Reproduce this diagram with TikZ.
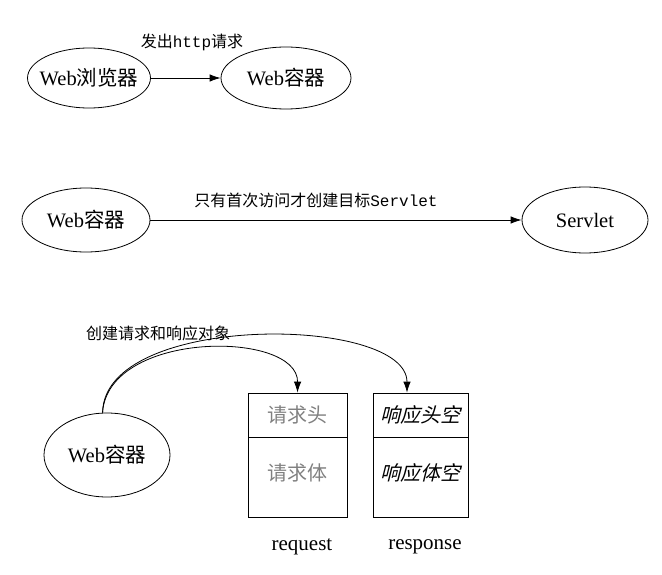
\documentclass[tikz,border=0pt]{standalone}
\usepackage{fontspec}
\usepackage{tikz}
\usetikzlibrary{shapes.geometric,arrows.meta}
\setmainfont{Liberation Serif}
\setmonofont{Liberation Mono}
\newfontfamily\cjk{Noto Sans CJK SC}
\newfontfamily\cjkit[FakeSlant=0.25]{Noto Sans CJK SC}

\begin{document}
\begin{tikzpicture}[x=1pt, y=-1pt, line width=0.8pt,
	ell/.style={ellipse, draw=black, inner sep=0pt, font=\fontsize{20.5}{22}\selectfont},
	lbl/.style={inner sep=0pt, font=\fontsize{16}{18}\selectfont},
	cell/.style={rectangle, draw=black, minimum width=99pt, inner sep=0pt, font=\fontsize{20}{22}\selectfont},
	tip/.style={-{Latex[length=11pt,width=7.5pt]}}]
			\useasboundingbox (0,0) rectangle (662,575);
			% browser sends request
			\node[ell, minimum width=123pt, minimum height=60pt] (browser) at (89,78){\makebox[0pt]{Web{\cjk 浏览器}}};
			\node[ell, minimum width=130pt, minimum height=62pt] (cont) at (286,78){\makebox[0pt]{Web{\cjk 容器}}};
			\node[lbl] (send) at (192,42){\cjk 发出\texttt{http}请求};
			\path[tip] (browser) edge (cont);
			
			% container creates servlet
			\node[ell, minimum width=128pt, minimum height=64pt] (cont2) at (86,220){\makebox[0pt]{Web{\cjk 容器}}};
			\node[ell, minimum width=126pt, minimum height=66pt] (servlet) at (585,220){\makebox[0pt]{Servlet}};
			\node[lbl] (first) at (316,200){\cjk 只有首次访问才创建目标\texttt{Servlet}};
			\path[tip] (cont2) edge (servlet);
			
			% request and response objects
			\node[ell, minimum width=126pt, minimum height=84pt] (cont3) at (107,455){\makebox[0pt]{Web{\cjk 容器}}};
			\node[lbl] (create) at (158,333){\cjk 创建请求和响应对象};
			\node[cell, minimum height=44pt, text=black!50] (reqhead) at (297.5,415){\cjk 请求头};
			\node[cell, minimum height=80pt, text=black!50, anchor=north] (reqbody) at (reqhead.south){\raisebox{12pt}{\cjk 请求体}};
			\node[cell, minimum width=95pt, minimum height=44pt] (resphead) at (420.5,415){\cjkit 响应头空};
			\node[cell, minimum width=95pt, minimum height=80pt, anchor=north] (respbody) at (resphead.south){\raisebox{12pt}{\cjkit 响应体空}};
			\node[lbl, font=\fontsize{21}{23}\selectfont] (req) at (302,547){request};
			\node[lbl, font=\fontsize{21}{23}\selectfont] (resp) at (425,547){response};
			
			\draw[tip] (cont3.96) .. controls (108,330) and (298,330) .. (reqhead.north);
			\draw[tip] (cont3.96) .. controls (104,312) and (407,315) .. (resphead.north -| 407,0);
			\end{tikzpicture}
\end{document}
